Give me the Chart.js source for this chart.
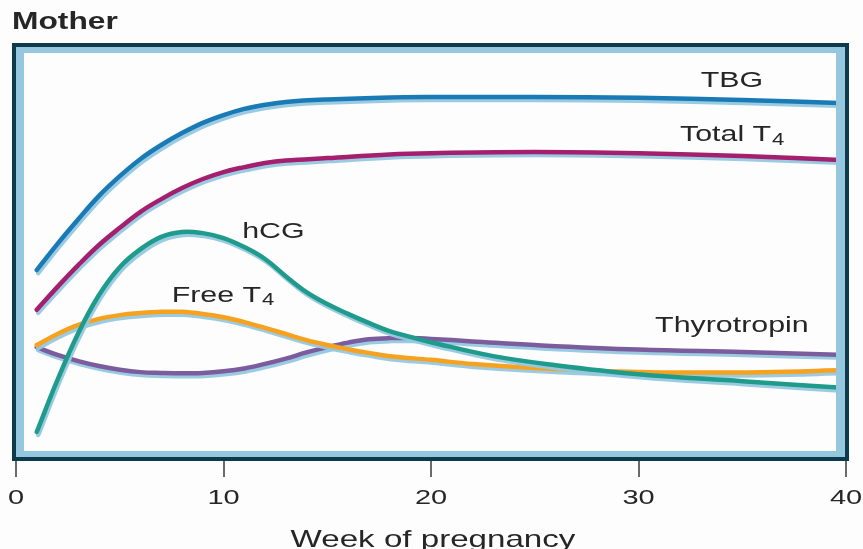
<!DOCTYPE html>
<html>
<head>
<meta charset="utf-8">
<script src="https://cdn.jsdelivr.net/npm/chart.js@4/dist/chart.umd.min.js"></script>
<style>
  html, body { margin: 0; padding: 0; background: #fdfdfd; }
  #wrap { width: 863px; height: 549px; }
</style>
</head>
<body>
<div id="wrap"><canvas id="motherChart"></canvas></div>
<script>
// week of pregnancy, relative level (unitless)
const tbgWeeks = [1, 2, 3, 4, 5, 6, 7, 8, 9, 10, 11, 12, 13, 15, 18, 20, 25, 30, 35, 40];
const tbgValues = [45.6, 52.0, 58.0, 63.7, 68.5, 72.7, 76.1, 79.0, 81.5, 83.4, 84.9, 85.9, 86.6, 87.2, 87.7, 87.8, 87.8, 87.6, 87.1, 86.3];

const totalT4Weeks = [1, 2, 3, 4, 5, 6, 7, 8, 9, 10, 11, 12, 13, 15, 18, 20, 25, 30, 35, 40];
const totalT4Values = [35.9, 41.5, 46.8, 51.7, 55.9, 59.8, 62.9, 65.6, 67.8, 69.5, 70.7, 71.7, 72.3, 72.9, 73.8, 74.1, 74.4, 74.1, 73.4, 72.4];

const hcgWeeks = [1, 2, 3, 4, 5, 6, 7, 8, 9, 10, 11, 12, 13, 14, 15, 16, 17, 18, 19, 20, 23, 26, 30, 35, 40];
const hcgValues = [6.1, 18.8, 30.2, 39.5, 46.3, 50.7, 53.7, 54.9, 54.6, 53.4, 51.2, 48.3, 44.1, 40.2, 37.3, 34.9, 32.7, 30.7, 29.3, 28.0, 24.6, 22.4, 20.2, 18.5, 16.8];

const freeT4Weeks = [1, 2, 3, 4, 5, 6, 7, 8, 9, 10, 11, 12, 13, 14, 15, 16, 17, 18, 20, 22, 25, 28, 32, 36, 40];
const freeT4Values = [27.3, 30.0, 32.2, 33.7, 34.6, 35.1, 35.4, 35.4, 34.9, 34.1, 32.9, 31.5, 30.0, 28.5, 27.3, 26.3, 25.4, 24.6, 23.7, 22.7, 21.7, 21.0, 20.6, 20.7, 21.2];

const tshWeeks = [1, 2, 3, 4, 5, 6, 7, 8, 9, 10, 11, 12, 13, 14, 15, 16, 17, 18, 19, 20, 22, 25, 30, 35, 40];
const tshValues = [26.8, 24.9, 23.4, 22.2, 21.3, 20.7, 20.5, 20.4, 20.5, 20.9, 21.6, 22.7, 24.0, 25.5, 26.8, 27.9, 28.7, 29.0, 29.0, 28.8, 28.2, 27.3, 26.2, 25.6, 24.9];

const weekTicks = [0, 10, 20, 30, 40];

// curve labels: text, subscript, week, level
const curveLabels = [
  ['TBG', '', 33.0, 91.7],
  ['Total T', '4', 32.0, 78.5],
  ['hCG', '', 10.9, 55.0],
  ['Free T', '4', 7.5, 39.3],
  ['Thyrotropin', '', 30.8, 31.9]
];

const toPoints = function (xs, ys) {
  return xs.map((x, i) => ({ x: x, y: ys[i] }));
};

const TEXT_STRETCH = 1.38;
const TEXT_COLOR = '#262626';

const drawWide = function (ctx, text, x, y, size, weight, align) {
  ctx.save();
  ctx.font = (weight || 'normal') + ' ' + size + 'px "Liberation Sans", Arial, sans-serif';
  ctx.fillStyle = TEXT_COLOR;
  ctx.textBaseline = 'middle';
  const w = ctx.measureText(text).width * TEXT_STRETCH;
  let left = x;
  if (align === 'center') left = x - w / 2;
  ctx.translate(left, y);
  ctx.scale(TEXT_STRETCH, 1);
  ctx.textAlign = 'left';
  ctx.fillText(text, 0, 0);
  ctx.restore();
  return w;
};

const lineShadow = {
  id: 'lineShadow',
  beforeDatasetDraw: function (chart) {
    const ctx = chart.ctx;
    ctx.save();
    ctx.shadowColor = 'rgba(150, 200, 225, 0.95)';
    ctx.shadowOffsetX = 1.5;
    ctx.shadowOffsetY = 3;
    ctx.shadowBlur = 0;
  },
  afterDatasetDraw: function (chart) {
    chart.ctx.restore();
  }
};

const plotFrame = {
  id: 'plotFrame',
  afterDatasetsDraw: function (chart) {
    const ctx = chart.ctx;
    const a = chart.chartArea;
    ctx.save();
    ctx.fillStyle = '#95c7df';
    ctx.fillRect(a.left - 1, a.top, 9, a.bottom - a.top);
    ctx.fillRect(a.right - 10, a.top, 10, a.bottom - a.top);
    ctx.fillRect(a.left, a.top, a.right - a.left, 6);
    ctx.fillRect(a.left, a.bottom - 6, a.right - a.left, 6);
    ctx.fillStyle = '#0e3a4c';
    ctx.fillRect(a.left - 4, a.top - 4, a.right - a.left + 7, 4);
    ctx.fillRect(a.left - 4, a.bottom, a.right - a.left + 7, 4);
    ctx.fillRect(a.left - 4, a.top - 4, 4, a.bottom - a.top + 8);
    ctx.fillRect(a.right - 1, a.top - 4, 4, a.bottom - a.top + 8);
    ctx.restore();
  }
};

const chartTexts = {
  id: 'chartTexts',
  afterDraw: function (chart) {
    const ctx = chart.ctx;
    const xs = chart.scales.x;
    const ys = chart.scales.y;

    drawWide(ctx, 'Mother', 12, 23, 23, 'bold', 'left');

    curveLabels.forEach(lab => {
      const px = xs.getPixelForValue(lab[2]);
      const py = ys.getPixelForValue(lab[3]);
      const w = drawWide(ctx, lab[0], px, py, 22, 'normal', 'left');
      if (lab[1]) {
        drawWide(ctx, lab[1], px + w + 1, py + 5, 16, 'normal', 'left');
      }
    });

    weekTicks.forEach(t => {
      drawWide(ctx, String(t), xs.getPixelForValue(t), 498, 21, 'normal', 'center');
    });

    drawWide(ctx, 'Week of pregnancy', xs.getPixelForValue(20) + 2, 540, 24, 'normal', 'center');
  }
};

const makeSet = function (label, xs, ys, color) {
  return {
    label: label,
    data: toPoints(xs, ys),
    borderColor: color,
    borderWidth: 4.5,
    pointRadius: 0,
    fill: false,
    tension: 0.4,
    borderCapStyle: 'round',
    borderJoinStyle: 'round'
  };
};

const data = {
  datasets: [
    makeSet('hCG', hcgWeeks, hcgValues, '#1f9b8b'),
    makeSet('Free T4', freeT4Weeks, freeT4Values, '#f6a21f'),
    makeSet('Thyrotropin', tshWeeks, tshValues, '#7b5c9c'),
    makeSet('TBG', tbgWeeks, tbgValues, '#1a7ab6'),
    makeSet('Total T4', totalT4Weeks, totalT4Values, '#a41f6d')
  ]
};

const config = {
  type: 'line',
  data: data,
  options: {
    responsive: true,
    maintainAspectRatio: false,
    animation: false,
    layout: { padding: { left: 16, right: 17, top: 47, bottom: 72 } },
    plugins: {
      legend: { display: false },
      tooltip: { enabled: false }
    },
    scales: {
      x: {
        type: 'linear',
        min: 0,
        max: 40,
        border: { display: false },
        grid: {
          drawOnChartArea: false,
          drawTicks: true,
          tickLength: 20,
          color: '#6a6a6a',
          lineWidth: 2
        },
        ticks: { display: false, stepSize: 10 }
      },
      y: {
        display: false,
        min: 0,
        max: 100
      }
    }
  },
  plugins: [lineShadow, plotFrame, chartTexts]
};

const MotherChart = new Chart(document.getElementById('motherChart'), config);
</script>
</body>
</html>
